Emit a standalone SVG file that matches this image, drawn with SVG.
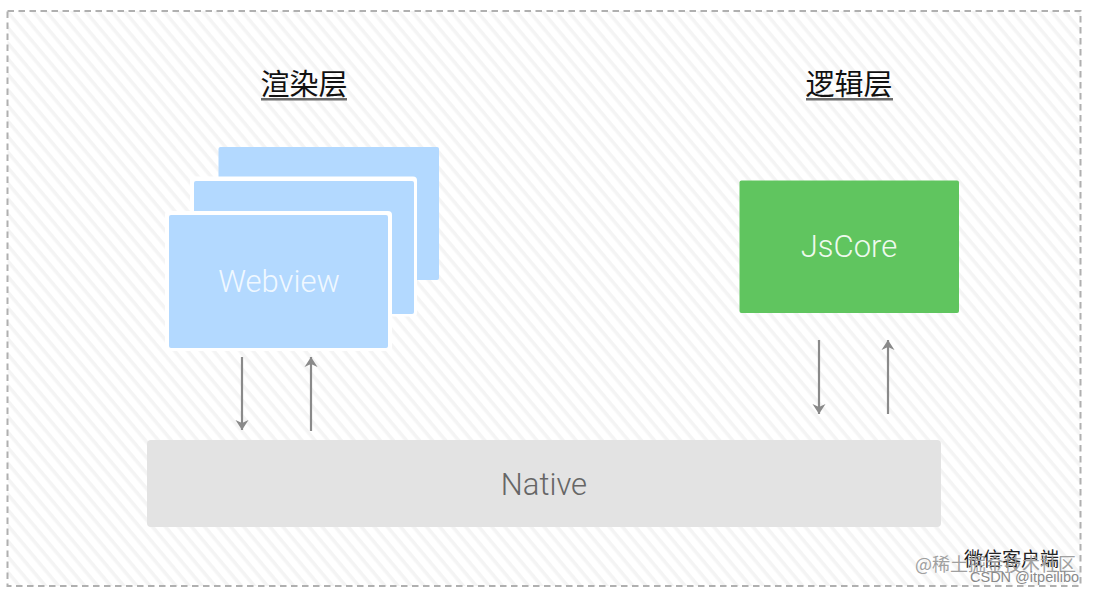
<svg xmlns="http://www.w3.org/2000/svg" width="1094" height="594" viewBox="0 0 1094 594">
<style>
.blue{fill:#b3d9ff}
.halo{fill:#fff}
.lbl{font-family:"Roboto","Liberation Sans",sans-serif;font-weight:300;font-size:31px;text-anchor:middle}
.head{font-family:"Noto Sans CJK SC",sans-serif;font-size:29px;text-anchor:middle;fill:#111}
.ul{fill:#6a6a6a}
.arr{stroke:#8a8a8a;stroke-width:2.200;fill:none;marker-end:url(#ah)}
</style>
<defs>
<pattern id="hatch" width="10" height="10" patternUnits="userSpaceOnUse" patternTransform="rotate(50)">
<rect width="10" height="10" fill="#fff"/>
<rect width="10" height="3.500" fill="#f4f4f4"/>
</pattern>
<marker id="ah" viewBox="0 0 11 14" refX="10.500" refY="7" markerWidth="11" markerHeight="14" markerUnits="userSpaceOnUse" orient="auto">
<path d="M0.500 0.500 L10.500 7 L0.500 13.500 L3.500 7 Z" fill="#8a8a8a"/>
</marker>
</defs>
<rect width="1094" height="594" fill="#fff"/>
<rect id="frame" x="7.500" y="11" width="1073" height="575" fill="url(#hatch)" stroke="#b0b0b0" stroke-width="2" stroke-dasharray="6.500 4.500"/>
<g id="title-render"><text class="head" x="304" y="95">渲染层</text><rect class="ul" x="261" y="98" width="86" height="2.500"/></g>
<g id="title-logic"><text class="head" x="849" y="95">逻辑层</text><rect class="ul" x="806" y="98" width="87" height="2.500"/></g>
<g id="webview-back"><rect class="blue" x="218.500" y="147" width="220.500" height="133" rx="2"/></g>
<g id="webview-mid"><rect class="halo" x="190" y="176.500" width="227" height="140" rx="4"/><rect class="blue" x="194" y="181" width="220" height="133" rx="2"/></g>
<g id="webview"><rect class="halo" x="165" y="211" width="227" height="140" rx="4"/><rect class="blue" x="169" y="215" width="219" height="133" rx="2"/><text class="lbl" x="279" y="292" fill="#f0f8ff">Webview</text></g>
<g id="jscore"><rect x="739.500" y="180.500" width="219.500" height="132.500" rx="2" fill="#60c55f"/><text class="lbl" x="849" y="257" fill="#eefaee">JsCore</text></g>
<g id="native"><rect x="147" y="440" width="794" height="87" rx="4" fill="#e3e3e3"/><text class="lbl" x="544" y="495" fill="#666">Native</text></g>
<g id="connectors">
<path class="arr" d="M242 357V430"/>
<path class="arr" d="M311 431V357"/>
<path class="arr" d="M819 340V414"/>
<path class="arr" d="M888 414V340"/>
</g>
<g id="caption">
<text x="964" y="566" font-family="Noto Sans CJK SC,sans-serif" font-size="19" fill="#222">微信客户端</text>
<text x="915" y="571" font-family="Noto Sans CJK SC,sans-serif" font-size="18" fill="#a0a0a0">@稀土掘金技术社区</text>
<text x="970" y="582" font-family="Liberation Sans,sans-serif" font-size="14.500" fill="#8a8a8a">CSDN @itpeilibo</text>
</g>
</svg>
